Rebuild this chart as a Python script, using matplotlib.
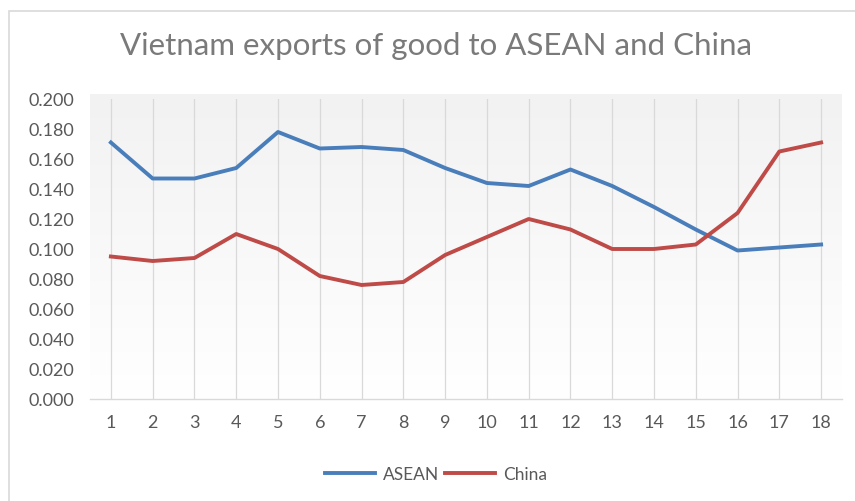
import matplotlib
matplotlib.use("Agg")
import matplotlib.pyplot as plt
import numpy as np
from matplotlib.patches import Rectangle

plt.rcParams['font.family'] = ['Lato', 'DejaVu Sans']

periods = list(range(1, 19))
asean = [0.171, 0.147, 0.147, 0.154, 0.178, 0.167, 0.168, 0.166, 0.154,
         0.144, 0.142, 0.153, 0.142, 0.128, 0.113, 0.099, 0.101, 0.103]
china = [0.095, 0.092, 0.094, 0.110, 0.100, 0.082, 0.076, 0.078, 0.096,
         0.108, 0.120, 0.113, 0.100, 0.100, 0.103, 0.124, 0.165, 0.171]
y_ticks = [0.0, 0.02, 0.04, 0.06, 0.08, 0.10, 0.12, 0.14, 0.16, 0.18, 0.20]

W, H = 855, 502
fig = plt.figure(figsize=(W / 100, H / 100), dpi=100)
fig.patch.set_facecolor("white")

# chart border (only top and left edges show)
fig.add_artist(Rectangle((9 / W, -0.1), 1.2, (H - 12) / H + 0.1,
                         transform=fig.transFigure, fill=False,
                         edgecolor="#d9d9d9", linewidth=1.2))

ax = fig.add_axes([90 / W, (H - 400) / H, (842 - 90) / W, 300 / H])
ax.set_xlim(0.5, 18.5)
ax.set_ylim(0, 0.2)

# soft vertical gradient in the plot area
grad = np.linspace(1.0, 0.0, 256).reshape(-1, 1)
ax.imshow(grad, extent=[0.5, 18.5, 0, 0.203], aspect="auto",
          cmap=matplotlib.colors.LinearSegmentedColormap.from_list(
              "bg", ["#ffffff", "#f2f2f2"]), zorder=0, clip_on=False)

for p in periods:
    ax.axvline(p, color="#d9d9d9", linewidth=0.9, zorder=1)

ax.plot(periods, asean, color="#4a7ebb", linewidth=2.8, label="ASEAN",
        solid_joinstyle="round", zorder=3)
ax.plot(periods, china, color="#be4b48", linewidth=2.8, label="China",
        solid_joinstyle="round", zorder=3)

ax.set_xticks(periods)
ax.set_xticklabels([str(p) for p in periods])
ax.set_yticks(y_ticks)
ax.set_yticklabels([f"{v:.3f}" for v in y_ticks])
ax.tick_params(axis="both", length=0, labelsize=13, labelcolor="#595959")
ax.tick_params(axis="x", pad=11)
ax.tick_params(axis="y", pad=11)

for side in ["top", "right", "left"]:
    ax.spines[side].set_visible(False)
ax.spines["bottom"].set_color("#d9d9d9")
ax.spines["bottom"].set_linewidth(1.0)

fig.text(436 / W, 1 - 46 / H, "Vietnam exports of good to ASEAN and China",
         ha="center", va="center", fontsize=22.5, color="#7a7a7a")

fig.legend(loc="center", bbox_to_anchor=(436 / W, 1 - 475 / H), ncol=2,
           frameon=False, fontsize=12.5, labelcolor="#595959",
           handlelength=2.9, handletextpad=0.45, columnspacing=0.3)

fig.savefig("out.png", dpi=100)
